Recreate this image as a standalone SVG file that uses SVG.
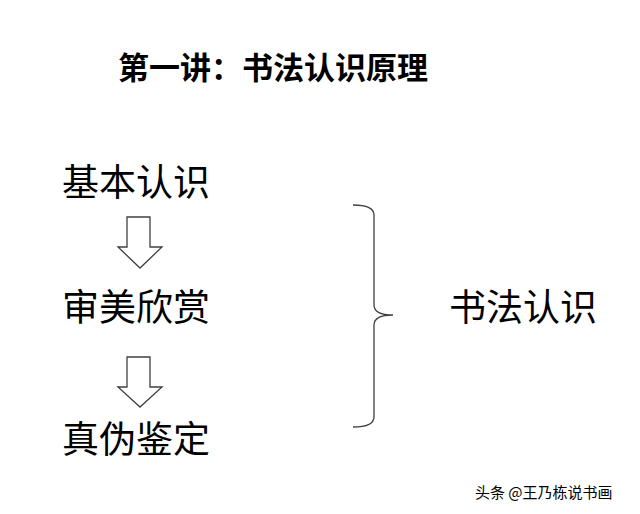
<svg xmlns="http://www.w3.org/2000/svg" width="640" height="514" viewBox="0 0 640 514">
<style>
text{font-family:"Noto Sans CJK SC","Noto Sans",sans-serif;fill:#000}
.n{font-size:37px}
.a{fill:#fff;stroke:#404040;stroke-width:1.3}
</style>
<rect width="640" height="514" fill="#fff"/>
<text x="118" y="79" font-size="31" font-weight="bold">第一讲：书法认识原理</text>
<g id="n1"><text class="n" x="62" y="196">基本认识</text></g>
<g id="n2"><text class="n" x="62" y="321">审美欣赏</text></g>
<g id="n3"><text class="n" x="62" y="453">真伪鉴定</text></g>
<g id="n4"><text class="n" x="449" y="321">书法认识</text></g>
<g id="connectors">
<path class="a" d="M127,217 H150 V247 H162 L140,268 L118,247 H127 Z"/>
<path class="a" d="M127,357 H150 V387 H162 L140,407 L118,387 H127 Z"/>
<path d="M353,205 Q374,205 374,215 V305 Q374,315 393,315 Q374,315 374,325 V417 Q374,427 353,427" fill="none" stroke="#404040" stroke-width="1.3"/>
</g>
<text x="475" y="498" font-size="15" fill="#333">头条 @王乃栋说书画</text>
</svg>
